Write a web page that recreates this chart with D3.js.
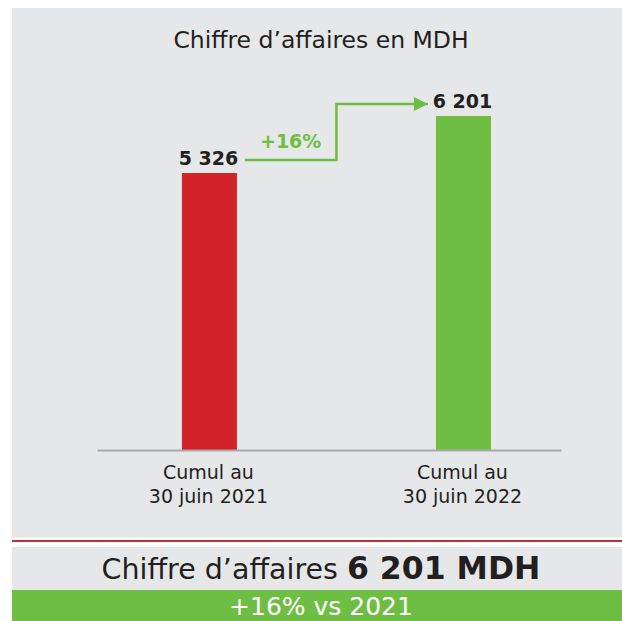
<!DOCTYPE html>
<html>
<head>
<meta charset="utf-8">
<script src="https://cdn.jsdelivr.net/npm/d3@7"></script>
<style>
  body { margin: 0; background: #ffffff; }
  svg { display: block; }
  text { font-family: "DejaVu Sans", sans-serif; fill: #231f20; }
</style>
</head>
<body>
<div id="chart"></div>
<script>
// data
var periods = ["Cumul au|30 juin 2021", "Cumul au|30 juin 2022"];
var revenue = [5326, 6201];
var barColors = ["#d2232a", "#6fbe44"];
var growthLabel = "+16%";
var chartTitle = "Chiffre d\u2019affaires en MDH";
var summaryLabel = "Chiffre d\u2019affaires";
var summaryUnit = "MDH";
var compareLabel = "vs 2021";

var svgWidth = 622;
var svgHeight = 621;

var green = "#6fbe44";
var panelGray = "#e6e7e8";

var svg = d3.select("#chart")
	.append("svg")
	.attr("width", svgWidth)
	.attr("height", svgHeight);

var fr = d3.formatLocale({ decimal: ",", thousands: " ", grouping: [3], currency: ["", ""] });
var fmt = fr.format(",d");

// background blocks
svg.append("rect")
	.attr("x", 12).attr("y", 8)
	.attr("width", svgWidth - 12).attr("height", 529.5)
	.attr("fill", panelGray);

svg.append("rect")
	.attr("x", 12).attr("y", 540)
	.attr("width", svgWidth - 12).attr("height", 2)
	.attr("fill", "#bf2f3a");

svg.append("rect")
	.attr("x", 12).attr("y", 547)
	.attr("width", svgWidth - 12).attr("height", 43)
	.attr("fill", panelGray);

svg.append("rect")
	.attr("x", 12).attr("y", 590)
	.attr("width", svgWidth - 12).attr("height", 31)
	.attr("fill", green);

// title
svg.append("text")
	.attr("x", 321)
	.attr("y", 48)
	.attr("text-anchor", "middle")
	.style("font-size", "23.5px")
	.text(chartTitle);

// scales
var xScale = d3.scaleBand()
	.domain(periods)
	.range([97, 561])
	.paddingInner(0.7835)
	.paddingOuter(0.305)
	.align(0.548);

// the bars do not start from zero in the source picture
var yScale = d3.scaleLinear()
	.domain([1074, d3.max(revenue)])
	.range([450, 116]);

var chartGroup = svg.append("g");

// bars
chartGroup.selectAll("rect.bar")
	.data(revenue)
	.enter()
	.append("rect")
	.attr("class", "bar")
	.attr("x", (d, i) => xScale(periods[i]))
	.attr("y", d => yScale(d))
	.attr("width", xScale.bandwidth())
	.attr("height", d => yScale.range()[0] - yScale(d) + 1)
	.attr("fill", (d, i) => barColors[i]);

// x axis
var bottomAxis = d3.axisBottom(xScale).tickSize(0).tickSizeOuter(0);
var xAxis = chartGroup.append("g")
	.attr("transform", `translate(0, ${yScale.range()[0]})`)
	.call(bottomAxis);

xAxis.select(".domain")
	.attr("stroke", "#a7a9ac")
	.attr("stroke-width", 2);

xAxis.selectAll(".tick text").remove();
xAxis.selectAll(".tick").each(function(d) {
	var lines = d.split("|");
	var t = d3.select(this).append("text")
		.attr("text-anchor", "middle")
		.style("font-size", "19px")
		.style("fill", "#231f20");
	lines.forEach(function(line, i) {
		t.append("tspan")
			.attr("x", -1)
			.attr("y", 29 + i * 24)
			.text(line);
	});
});

// value labels
chartGroup.selectAll("text.value")
	.data(revenue)
	.enter()
	.append("text")
	.attr("class", "value")
	.attr("x", (d, i) => xScale(periods[i]) + xScale.bandwidth() / 2 - 1)
	.attr("y", d => yScale(d) - 8)
	.attr("text-anchor", "middle")
	.style("font-size", "19px")
	.style("font-weight", "bold")
	.text(d => fmt(d));

// growth arrow
var x0 = xScale(periods[0]) + xScale.bandwidth() + 8;
var x1 = xScale(periods[1]) - 8;
var xMid = (xScale(periods[0]) + xScale.bandwidth() + xScale(periods[1])) / 2;
var yA = yScale(revenue[0]) - 13;
var yB = yScale(revenue[1]) - 12;

svg.append("defs").append("marker")
	.attr("id", "head")
	.attr("viewBox", "0 0 10 10")
	.attr("refX", 10).attr("refY", 5)
	.attr("markerWidth", 18).attr("markerHeight", 14)
	.attr("markerUnits", "userSpaceOnUse")
	.attr("orient", "auto")
	.append("path")
	.attr("d", "M0,0 L10,5 L0,10 Z")
	.attr("fill", green);

chartGroup.append("path")
	.attr("d", d3.line()([[x0, yA], [xMid, yA], [xMid, yB], [x1, yB]]))
	.attr("fill", "none")
	.attr("stroke", green)
	.attr("stroke-width", 2.5)
	.attr("marker-end", "url(#head)");

chartGroup.append("text")
	.attr("x", (x0 + xMid) / 2)
	.attr("y", yA - 12)
	.attr("text-anchor", "middle")
	.style("font-size", "19px")
	.style("font-weight", "bold")
	.style("fill", green)
	.text(growthLabel);

// summary band
var summary = svg.append("text")
	.attr("x", 321)
	.attr("y", 579)
	.attr("text-anchor", "middle");
summary.append("tspan")
	.style("font-size", "28.5px")
	.text(summaryLabel + " ");
summary.append("tspan")
	.style("font-size", "31.5px")
	.style("font-weight", "bold")
	.text(fmt(revenue[1]) + " " + summaryUnit);

svg.append("text")
	.attr("x", 321)
	.attr("y", 615)
	.attr("text-anchor", "middle")
	.style("font-size", "25px")
	.style("fill", "#ffffff")
	.text(growthLabel + " " + compareLabel);
</script>
</body>
</html>
